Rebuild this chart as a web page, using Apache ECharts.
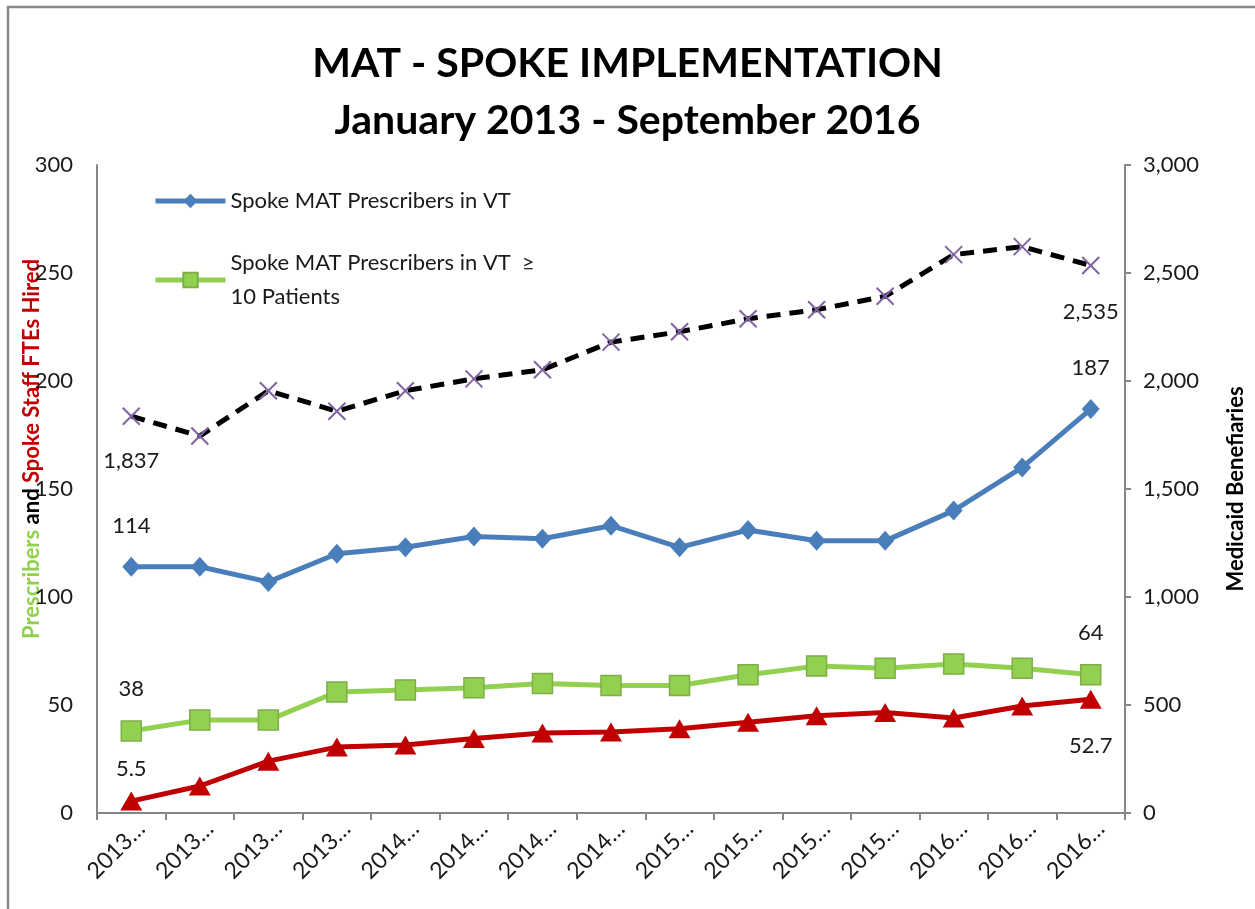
<!DOCTYPE html>
<html>
<head>
<meta charset="utf-8">
<title>MAT - Spoke Implementation</title>
<script src="https://cdn.jsdelivr.net/npm/echarts@6/dist/echarts.min.js"></script>
<style>
  html, body { margin: 0; padding: 0; background: #fff; }
  #chart { width: 1255px; height: 909px; }
</style>
</head>
<body>
<div id="chart"></div>
<script>
// quarters, Jan 2013 - Sep 2016
const quarters = [
  "2013 Q1", "2013 Q2", "2013 Q3", "2013 Q4",
  "2014 Q1", "2014 Q2", "2014 Q3", "2014 Q4",
  "2015 Q1", "2015 Q2", "2015 Q3", "2015 Q4",
  "2016 Q1", "2016 Q2", "2016 Q3",
];
const prescribers = [114, 114, 107, 120, 123, 128, 127, 133, 123, 131, 126, 126, 140, 160, 187];
const prescribers10 = [38, 43, 43, 56, 57, 58, 60, 59, 59, 64, 68, 67, 69, 67, 64];
const staffFtes = [5.5, 12.5, 24, 30.5, 31.5, 34.5, 37, 37.5, 39, 42, 45, 46.5, 44, 49.5, 52.7];
const beneficiaries = [1837, 1745, 1955, 1860, 1955, 2010, 2052, 2180, 2228, 2288, 2330, 2392, 2585, 2622, 2535];
const leftTicks = { min: 0, max: 300, interval: 50 };
const rightTicks = { min: 0, max: 3000, interval: 500 };

const nameBlue = "Spoke MAT Prescribers in VT";
const nameGreen = "Spoke MAT Prescribers in VT  \u2265\n10 Patients";

const FONT = "Lato, 'Liberation Sans', sans-serif";
const fmt = (v) => Number(v).toLocaleString("en-US");

// show a value label only on first and last point
const endLabels = (values, firstPos, lastPos, dist) =>
  values.map((v, i) => {
    if (i === 0) return { value: v, label: { show: true, position: firstPos, distance: dist[0] } };
    if (i === values.length - 1) return { value: v, label: { show: true, position: lastPos, distance: dist[1] } };
    return v;
  });

const chart = echarts.init(document.getElementById("chart"));

const labelText = {
  fontFamily: FONT,
  fontSize: 22,
  color: "#1a1a1a",
};

const option = {
  animation: false,
  textStyle: { fontFamily: FONT },
  title: {
    text: "MAT - SPOKE IMPLEMENTATION\nJanuary 2013 - September 2016",
    left: "center",
    top: 30,
    textStyle: {
      fontFamily: FONT,
      fontSize: 41,
      fontWeight: "bold",
      color: "#000",
      lineHeight: 57,
    },
  },
  graphic: [
    {
      type: "rect",
      shape: { x: 8, y: 7, width: 1300, height: 960 },
      style: { fill: "none", stroke: "#888", lineWidth: 2.5 },
      silent: true,
    },
  ],
  legend: [
    {
      data: [nameBlue],
      left: 148,
      top: 185,
      itemWidth: 70,
      itemHeight: 18,
      itemGap: 8,
      lineStyle: { width: 5 },
      textStyle: { ...labelText },
    },
    {
      data: [{ name: nameGreen, textStyle: { ...labelText, lineHeight: 34, padding: [34, 0, 0, 0] } }],
      left: 148,
      top: 224,
      itemWidth: 70,
      itemHeight: 18,
      itemGap: 8,
      lineStyle: { width: 5 },
    },
  ],
  grid: {
    left: 97,
    right: 130,
    top: 165,
    bottom: 96,
    outerBoundsMode: "none",
  },
  xAxis: {
    type: "category",
    data: quarters,
    boundaryGap: true,
    axisLine: { lineStyle: { color: "#868686", width: 2 } },
    axisTick: { show: true, length: 7, lineStyle: { color: "#868686", width: 2 } },
    axisLabel: {
      ...labelText,
      fontSize: 23,
      rotate: 45,
      margin: 22,
      interval: 0,
      padding: [0, -14, 0, 0],
      formatter: (v) => v.slice(0, 4) + "\u2026",
    },
  },
  yAxis: [
    {
      type: "value",
      ...leftTicks,
      position: "left",
      name: "{g|Prescribers}{k| and }{r|Spoke Staff FTEs Hired}",
      nameLocation: "middle",
      nameRotate: 90,
      nameGap: 54,
      nameMoveOverlap: false,
      nameTextStyle: {
        padding: [0, 0, 0, 80],
        rich: {
          g: { color: "#92d050", fontWeight: "bold", fontSize: 22, fontFamily: FONT },
          k: { color: "#000", fontWeight: "bold", fontSize: 22, fontFamily: FONT },
          r: { color: "#c00000", fontWeight: "bold", fontSize: 22, fontFamily: FONT },
        },
      },
      axisLine: { show: true, lineStyle: { color: "#868686", width: 2 } },
      axisTick: { show: false },
      axisLabel: { ...labelText, margin: 24 },
      splitLine: { show: false },
    },
    {
      type: "value",
      ...rightTicks,
      position: "right",
      name: "Medicaid Benefiaries",
      nameLocation: "middle",
      nameRotate: 90,
      nameGap: 100,
      nameMoveOverlap: false,
      nameTextStyle: { fontFamily: FONT, fontSize: 22, fontWeight: "bold", color: "#000" },
      axisLine: { show: true, lineStyle: { color: "#868686", width: 2 } },
      axisTick: { show: true, inside: false, length: 6, lineStyle: { color: "#868686", width: 2 } },
      axisLabel: { ...labelText, margin: 18, formatter: fmt },
      splitLine: { show: false },
    },
  ],
  series: [
    {
      name: nameBlue,
      type: "line",
      data: endLabels(prescribers, "top", "top", [20, 20]),
      symbol: "diamond",
      symbolSize: [18, 20],
      lineStyle: { color: "#4a7ebb", width: 5 },
      itemStyle: { color: "#4a7ebb" },
      label: { ...labelText },
    },
    {
      name: nameGreen,
      type: "line",
      data: endLabels(prescribers10, "top", "top", [20, 20]),
      symbol: "rect",
      symbolSize: 20,
      lineStyle: { color: "#92d050", width: 5 },
      itemStyle: { color: "#92d050", borderColor: "#7fae48", borderWidth: 1.5 },
      label: { ...labelText },
    },
    {
      name: "Spoke Staff FTEs Hired",
      type: "line",
      data: endLabels(staffFtes, "top", "bottom", [12, 26]),
      symbol: "triangle",
      symbolSize: [22, 19],
      lineStyle: { color: "#c00000", width: 5 },
      itemStyle: { color: "#c00000" },
      label: { ...labelText },
    },
    {
      name: "Medicaid Benefiaries",
      type: "line",
      yAxisIndex: 1,
      data: endLabels(beneficiaries, "bottom", "bottom", [24, 26]),
      symbol: "path://M0,0L10,10M10,0L0,10",
      symbolSize: 17,
      lineStyle: { color: "#000", width: 5, type: [14, 9] },
      itemStyle: { color: "#8064a2", borderColor: "#8064a2", borderWidth: 2 },
      label: { ...labelText, formatter: (p) => fmt(p.value) },
    },
  ],
};

chart.setOption(option);
</script>
</body>
</html>
